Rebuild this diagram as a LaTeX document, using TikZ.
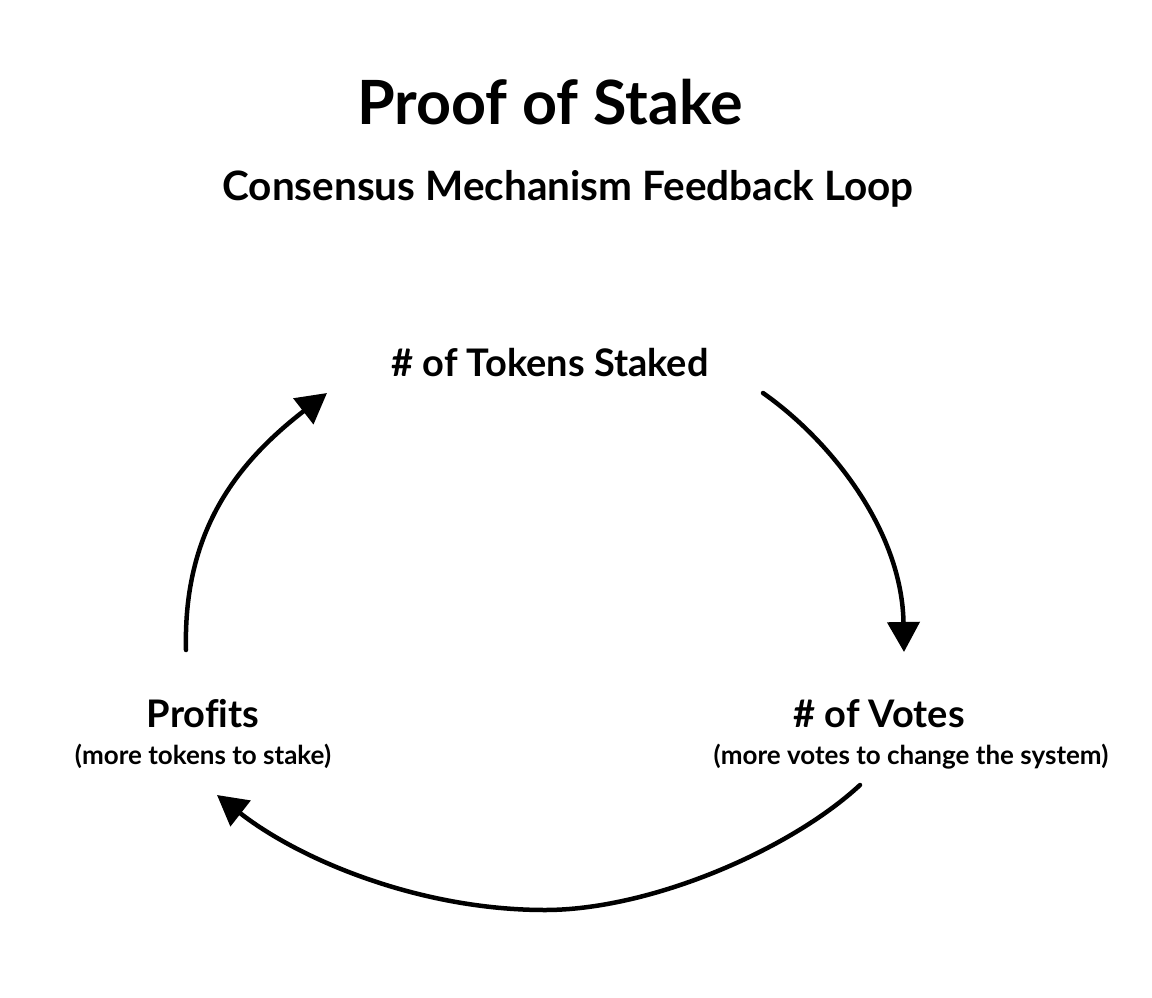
\documentclass[tikz,border=0pt]{standalone}
\usepackage{fontspec}
\setmainfont{Lato}[Ligatures=NoCommon]
\usetikzlibrary{arrows.meta}

\begin{document}
\begin{tikzpicture}[x=1pt,y=-1pt,
  title/.style={font=\bfseries\fontsize{61}{70}\selectfont,anchor=base,inner sep=0pt},
  subtitle/.style={font=\bfseries\fontsize{40.5}{48}\selectfont,anchor=base,inner sep=0pt},
  label/.style={font=\bfseries\fontsize{38}{44}\selectfont,anchor=base,inner sep=0pt},
  note/.style={font=\bfseries\fontsize{26}{30}\selectfont,anchor=base,inner sep=0pt},
  brush/.style={line width=4.5pt,line cap=round,-{Triangle[length=30pt,width=32pt]}}]
  % frame
  \useasboundingbox (0,0) rectangle (1152,997);
  % titles
  \node[title] (pos) at (550,124) {Proof of Stake};
  \node[subtitle] (loop) at (568,200) {Consensus Mechanism Feedback Loop};
  % labels
  \node[label] (tokens) at (550,376) {\# of Tokens Staked};
  \node[label] (profits) at (203,727) {Profits};
  \node[note] (profitsnote) at (203,764) {(more tokens to stake)};
  \node[label] (votes) at (879,727) {\# of Votes};
  \node[note] (votesnote) at (911,764) {(more votes to change the system)};
  % arrow ends
  \coordinate (profitsout) at (186,650);
  \coordinate (tokensin) at (327,393);
  \coordinate (tokensout) at (763,393);
  \coordinate (votesin) at (904,652);
  \coordinate (votesout) at (860,785);
  \coordinate (bottom) at (545,910);
  \coordinate (profitsin) at (217,795);
  % loop
  \draw[brush] (profitsout) .. controls (183,530) and (238,462) .. (tokensin);
  \draw[brush] (tokensout) .. controls (830,440) and (902,530) .. (votesin);
  \draw[brush] (votesout) .. controls (790,850) and (650,910) .. (bottom)
    .. controls (420,910) and (300,860) .. (profitsin);
\end{tikzpicture}
\end{document}
